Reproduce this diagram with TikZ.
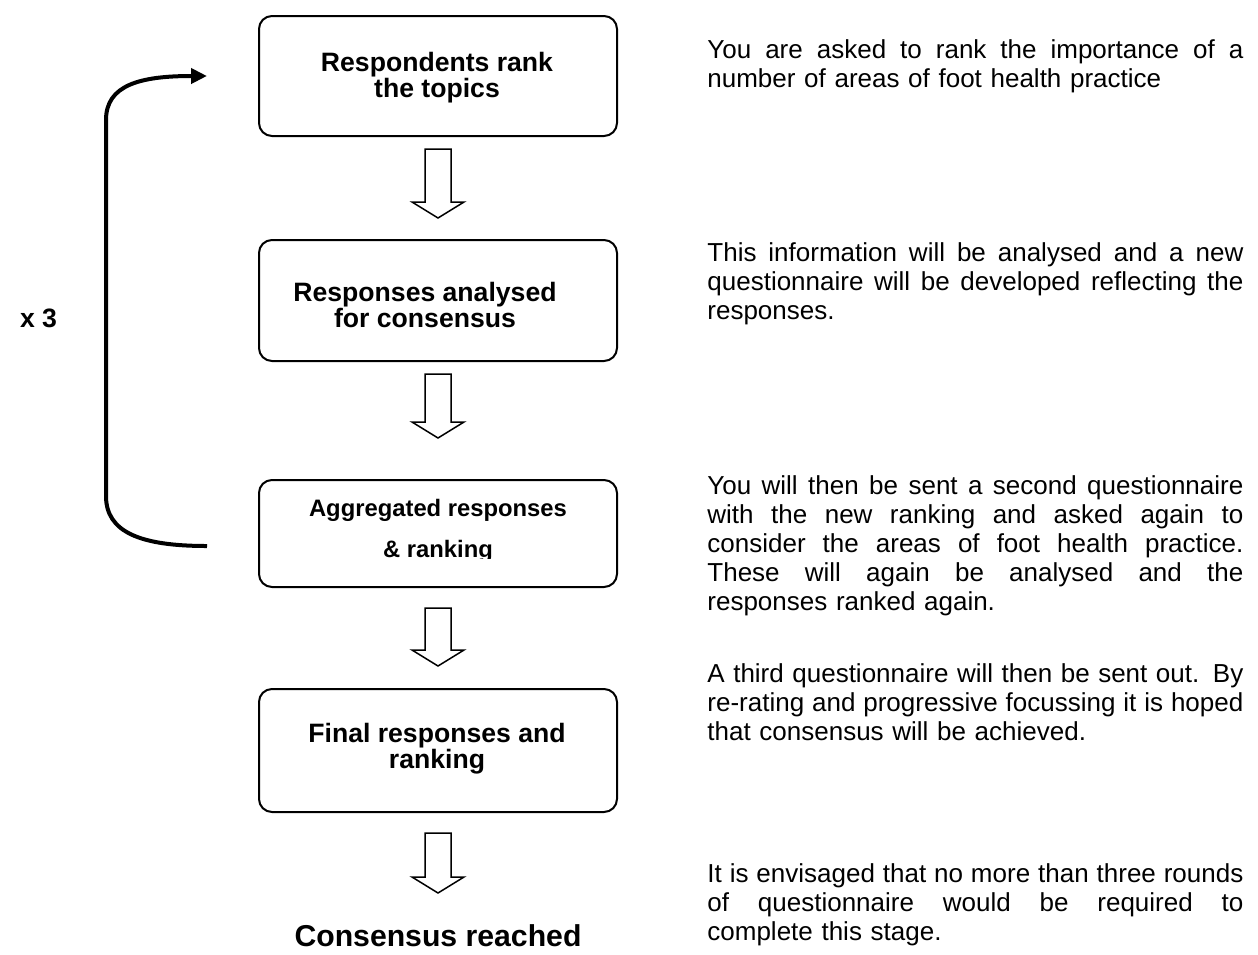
\documentclass[tikz,border=0pt]{standalone}
\usepackage{fontspec}
\setmainfont{Liberation Sans}
\usetikzlibrary{arrows.meta,calc}
\newcommand\jline[1]{{\spaceskip=0pt\xspaceskip=0pt\makebox[268pt][s]{#1}}}
\newcommand\blkarrow[2]{%
  \draw[blk] ($(#1)+(-13,0)$) -- ($(#1)+(13,0)$) -- ($(#2)+(13,-16)$) -- ($(#2)+(26,-16)$)
    -- (#2) -- ($(#2)+(-26,-16)$) -- ($(#2)+(-13,-16)$) -- cycle;}
\begin{document}
\begin{tikzpicture}[x=0.5pt,y=-0.5pt,
  box/.style={draw,line width=1pt,rounded corners=6.5pt,minimum width=179pt,inner sep=0pt},
  boxtxt/.style={font=\fontsize{13.3}{13}\selectfont\bfseries,align=center,inner sep=0pt},
  smalltxt/.style={font=\fontsize{11.9}{13}\selectfont\bfseries,inner sep=0pt,anchor=base},
  body/.style={font=\fontsize{13}{14.5}\selectfont,text width=268pt,inner sep=0pt,anchor=base west},
  blk/.style={draw,line width=0.75pt,fill=white,line join=miter},
  loopline/.style={line width=2pt,-{Triangle[length=8pt,width=7.5pt]}}]
\useasboundingbox (0,0) rectangle (1258,954);

% boxes
\node[box,minimum height=60pt]   (b1) at (438,76) {};
\node[box,minimum height=60.5pt] (b2) at (438,300.5) {};
\node[box,minimum height=53.5pt] (b3) at (438,533.5) {};
\node[box,minimum height=61.5pt] (b4) at (438,750.5) {};

% box texts
\node[boxtxt] (t1) at (437,78) {Respondents rank\\the topics};
\node[boxtxt] (t2) at (425,305) {Responses analysed\\for consensus};
\node[smalltxt] (t3a) at (438,516) {Aggregated responses};
\begin{scope}
  \clip (300,525) rectangle (580,558);
  \node[smalltxt] (t3b) at (438,557) {\& ranking};
\end{scope}
\node[boxtxt] (t4) at (437,749) {Final responses and\\ranking};

% final text
\node[font=\fontsize{15.1}{18}\selectfont\bfseries,inner sep=0pt,anchor=base] (fin) at (438,946) {Consensus reached};

% block arrows
\coordinate (a1s) at ($(b1.south)+(0,12)$);  \coordinate (a1e) at ($(b2.north)+(0,-21)$);
\coordinate (a2s) at ($(b2.south)+(0,12)$);  \coordinate (a2e) at ($(b3.north)+(0,-41)$);
\coordinate (a3s) at ($(b3.south)+(0,20)$);  \coordinate (a3e) at ($(b4.north)+(0,-22)$);
\coordinate (a4s) at ($(b4.south)+(0,20)$);  \coordinate (a4e) at (438,893);
\blkarrow{a1s}{a1e}
\blkarrow{a2s}{a2e}
\blkarrow{a3s}{a3e}
\blkarrow{a4s}{a4e}

% loop
\coordinate (ls) at ($(b3.west)+(-51,12.5)$);
\coordinate (le) at ($(b1.west)+(-51,0)$);
\draw[loopline] (ls) .. controls (140,546) and (106,532) .. (106,496) -- (106,120)
  .. controls (106,85) and (140,76) .. (le);
\node[font=\fontsize{13.3}{14}\selectfont\bfseries,inner sep=0pt,anchor=base] (x3) at (38.5,327) {x 3};

% right texts
\node[body] (p1) at (707,58) {\jline{You are asked to rank the importance of a}\\
number of areas of foot health practice};
\node[body] (p2) at (707,261) {\jline{This information will be analysed and a new}\\
\jline{questionnaire will be developed reflecting the}\\
responses.};
\node[body] (p3) at (707,494) {\jline{You will then be sent a second questionnaire}\\
\jline{with the new ranking and asked again to}\\
\jline{consider the areas of foot health practice.}\\
\jline{These will again be analysed and the}\\
responses ranked again.};
\node[body] (p4) at (707,682) {\jline{A third questionnaire will then be sent out. By}\\
\jline{re-rating and progressive focussing it is hoped}\\
that consensus will be achieved.};
\node[body] (p5) at (707,882) {\jline{It is envisaged that no more than three rounds}\\
\jline{of questionnaire would be required to}\\
complete this stage.};
\end{tikzpicture}
\end{document}
